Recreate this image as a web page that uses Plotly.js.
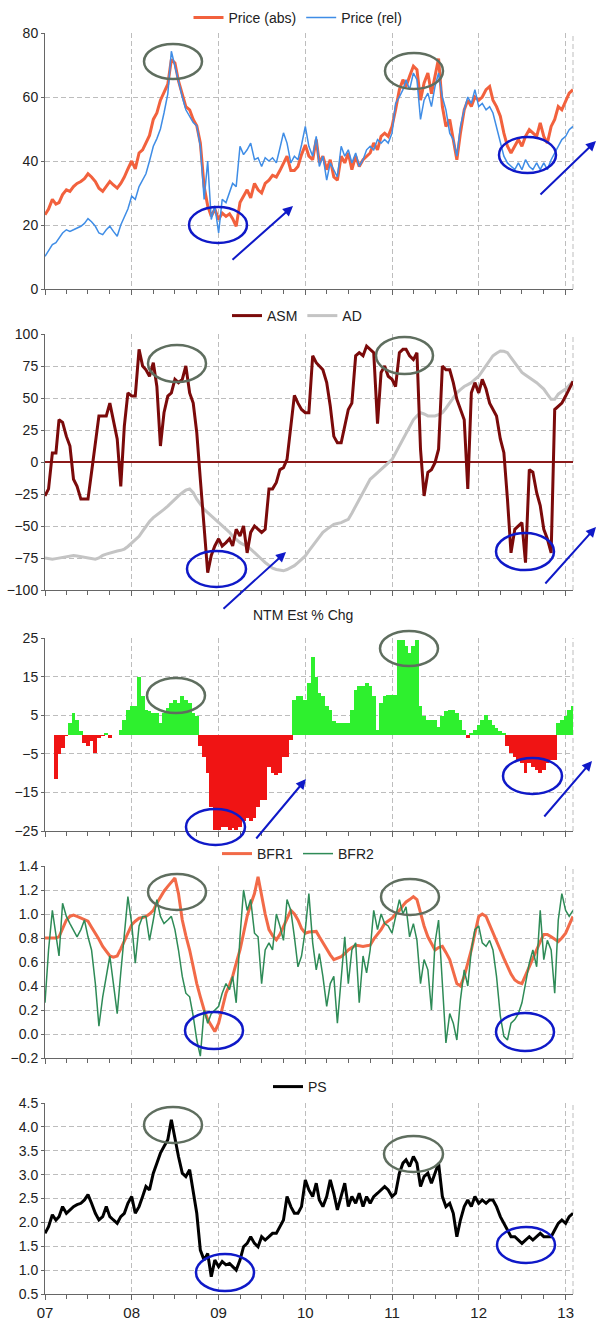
<!DOCTYPE html>
<html>
<head>
<meta charset="utf-8">
<script src="https://cdn.plot.ly/plotly-3.0.1.min.js"></script>
<style>html,body{margin:0;padding:0;background:#fff;}#chart{width:597px;height:1320px;}</style>
</head>
<body>
<div id="chart"></div>
<script>
// ---- data: semi-monthly observations, Jan 2007 .. Feb 2013 (147 points) ----
const N = 147;
const dates = [];
for (let i = 0; i < N; i++) {
  const m = Math.floor(i / 2);
  const y = 2007 + Math.floor(m / 12);
  const mo = (m % 12) + 1;
  dates.push(y + '-' + String(mo).padStart(2, '0') + '-' + (i % 2 ? '16' : '01'));
}
const yearTicks = ['2007-01-01','2008-01-01','2009-01-01','2010-01-01','2011-01-01','2012-01-01','2013-01-01'];
const yearLabels = ['07','08','09','10','11','12','13'];

const priceAbs = [
  23.2,25,28,26.5,27,29.5,31,30.5,32,33,33.6,34.5,
  36,35,33.6,31.5,30.5,32,33.6,32.5,31.5,33,35,37.5,
  40,37.5,42.5,43.5,45.6,48,53,55,59,61.5,64,71.7,
  70.6,65,61,57,56,53,51,45.6,32,26,22.7,25,
  21.7,23.7,22.7,23.5,22,19.6,27,29,31,28.5,33,31,
  30,33,34,35.5,35,37,39.4,41.5,37,37,38.3,42,
  45,41.5,40.4,46.7,39.4,41.5,37.3,40.4,35,34,41.5,39.4,
  42.5,37.3,41.5,38.3,40.4,41.5,42.5,45.6,43.5,47.7,48.7,47.7,
  50.8,56,62.3,65.4,63.3,66.5,69.6,68.5,59,64.4,67.5,61,
  66.5,72,57,50.8,53,46.7,40.4,48.7,56,59,57,60,
  59,60,62.3,63.3,59,57,54,48.7,44.6,42.5,44.6,46.7,
  44.6,47.7,49.8,48.7,47.7,51.9,47.7,45.6,50.8,53,57,56,
  59,61.2,62.3
];
const priceRel = [
  10.2,12,13.9,14.5,16,17.5,18.5,18,18.5,19,19.6,20.5,
  22,21,19.6,17.5,17,18.5,19.6,18,16.5,20,22.7,25,
  29,28,32,34,36,40,44.6,47,50,55,61,74.3,
  69.6,64,60,56,54,52,51,44.6,28,40,21.7,26,
  17.5,28,27,30,33,32,44.6,42,43.5,45.6,40.4,41,
  38.3,41,40,41,39.4,44,48.8,45.6,39.4,41.5,40.4,45,
  50.8,44.6,41.5,47.7,38.3,41.5,34,39.4,37.3,35,44.6,41.5,
  43.5,39.4,42.5,38.3,40.4,43.5,44.6,43.5,46.7,45.6,46.7,45.6,
  48.7,58,60,62.3,65.4,62.3,67.5,65.4,53,59,61.2,57,
  63.3,67.5,60,56,48.7,46.7,41.5,50.8,56,60,58,62.3,
  57,58,56,57,55,50.8,45.6,41.5,39.4,38.3,37.3,39.4,
  37.3,40.4,38.3,37.3,39.4,37.3,39.4,37.3,40.4,42.5,44.6,46.7,
  47.7,49.8,50.8
];
const asm = [
  -26.5,-21,7,7,33,31,20,12.5,-13.5,-19,-29,-29,
  -29,-8,15,36,36,36,46,31,18,-19,28,54,
  51.5,51.5,88,75,72,67,77.6,59,12.5,38.5,51.5,54,
  64.6,62,64.6,75,54,46,23,-13.5,-55,-86.5,-73,-65.6,
  -60,-65.6,-63,-60,-65.6,-52.6,-57.8,-50,-71,-55,-50,-52.6,
  -55,-52.6,-21,-21,-16,-6,-4.4,2,30,52,46,41,
  38.5,38.5,83,77.6,75,72,62,43.75,20,15,15,28,
  41,46,83,85.4,83,90.6,88,85.4,30,70,75,67,
  64.6,59,85.4,88,88,83,80,85.4,10,-26.5,-8,-6,
  -0.5,10,75,72,72,62,49,41,33,-21,54,62,
  54,64.6,57,46,41,36,18,7.3,-29,-71,-52.6,-50,
  -47.4,-78.6,-6,-8,-24,-34,-52.6,-60,-71,41,43.75,46,
  51.5,57,63
];
const ad = [
  -75,-75.5,-76,-75.5,-75,-74.5,-74,-73.5,-73,-73.5,-74,-74.5,
  -75,-75.5,-76,-75,-73,-72,-71,-70,-69.5,-69,-68,-66,
  -63,-60.5,-58,-54,-50,-46.5,-43.5,-41.5,-39.6,-37,-34.4,-31.5,
  -29,-26.5,-24,-22,-21,-24,-29,-33,-37,-39.5,-42,-44.5,
  -47.4,-50,-52.6,-55,-58,-60.5,-63,-64.5,-65.6,-68,-71,-73.5,
  -76,-78.5,-81,-83,-84,-84.5,-85,-84,-82.5,-81,-78.6,-76,
  -73.4,-69.5,-65.6,-62,-58,-55,-52.6,-50.5,-48.7,-48,-47.4,-46,
  -44.8,-40,-34.4,-29,-24,-19,-13.5,-11,-8.3,-5.5,-3,-0.5,
  2,7,12.5,18,23,28,33,36,38.5,37.5,36,36,
  36,37,38.5,42,46,50,54,56.5,59,60.5,62,64.5,
  67,71,75,79,83,85,86.7,86.5,85.4,81.5,77.6,74,
  70,68,66,64,62,59.5,57,53,49,49,53,55,
  57,60,63
];
const ntmChg = [
  0,0,0,-11.5,-5,-3.5,-0.5,3,5.5,3.8,1,-2.2,
  -3,-1.8,-4.8,-1,-0.5,0.5,-1,0,0,1.2,3.8,6.4,
  7.3,7.3,15,9.9,6.4,6,5.5,5.5,2.9,5.5,6.8,8.1,
  9,8.1,9.9,9,8.1,5.5,4.7,-3,-5.7,-10,-18.7,-24.7,
  -24.7,-24,-24,-24.7,-24.3,-24.7,-24,-22.5,-21.6,-22.5,-21.6,-18.7,
  -17,-17,-8.3,-10,-10.5,-10,-5.7,-5.7,-1.4,9,9.9,9.9,
  9,13.3,20.2,15,10.7,9.9,7.3,6.4,3.4,3,3,3,
  3,6.4,11.6,12.5,12.5,13.3,12.5,9.9,1.2,8.1,9.9,10.3,
  10.3,10.3,24.6,24.6,22.8,21.1,22.8,24.6,7.3,4.7,3.8,3.8,
  3.8,2,4.7,6,6.4,6.4,5.5,3.8,1.2,-1,0.5,1.2,
  2.5,3.8,5.1,3.8,2.5,1.6,0.8,0.3,-3.1,-4.8,-5.7,-6.6,
  -7.4,-10,-7.4,-8.3,-9.2,-10,-9.2,-7.4,-6.6,-6.6,3,3.8,
  4.7,6.4,7.3
];
const bfr1 = [
  0.8,0.8,0.8,0.8,0.81,0.88,0.95,0.98,0.99,0.98,0.965,0.955,
  0.94,0.89,0.84,0.79,0.73,0.69,0.65,0.64,0.65,0.71,0.78,0.85,
  0.91,0.94,0.965,0.97,0.98,1.0,1.03,1.09,1.145,1.19,1.23,1.27,
  1.30,1.17,0.95,0.82,0.70,0.56,0.42,0.31,0.2,0.12,0.065,0.02,
  0.09,0.21,0.34,0.41,0.48,0.59,0.70,0.84,0.98,1.08,1.17,1.31,
  1.145,1.0,0.87,0.82,0.785,0.83,0.895,0.96,1.03,1.0,0.95,0.88,
  0.84,0.85,0.855,0.855,0.81,0.76,0.70,0.66,0.62,0.63,0.645,0.67,
  0.70,0.72,0.74,0.735,0.73,0.735,0.74,0.79,0.83,0.87,0.92,0.94,
  0.965,1.0,1.03,1.07,1.10,1.12,1.145,1.12,1.0,0.9,0.81,0.75,
  0.70,0.72,0.73,0.68,0.62,0.52,0.42,0.40,0.48,0.59,0.70,0.84,
  0.98,1.0,0.98,0.91,0.84,0.77,0.70,0.63,0.56,0.5,0.45,0.43,
  0.42,0.49,0.56,0.63,0.70,0.77,0.83,0.83,0.81,0.79,0.77,0.80,
  0.84,0.91,0.98
];
const bfr2 = [
  0.26,0.70,1.03,0.81,0.65,1.09,0.98,0.92,0.87,0.81,0.87,0.95,
  0.81,0.70,0.42,0.065,0.31,0.48,0.65,0.42,0.17,0.51,0.81,1.145,
  0.92,0.59,0.90,0.98,0.98,0.78,0.95,1.12,0.98,0.92,0.95,0.98,
  0.87,0.70,0.48,0.34,0.31,0.15,-0.05,-0.185,0.2,0.09,0.17,0.2,
  0.23,0.34,0.42,0.37,0.48,0.26,0.81,1.2,1.03,1.12,0.84,0.81,
  0.42,0.70,0.76,0.70,1.0,0.90,0.78,1.12,1.03,0.81,0.56,0.65,
  0.87,1.17,0.76,0.535,0.67,0.48,0.23,0.42,0.48,0.09,0.48,0.81,
  0.42,0.70,0.76,0.26,0.65,0.51,0.70,1.03,0.87,1.0,0.92,0.90,
  0.84,0.98,1.12,1.0,1.06,0.81,0.92,0.78,0.42,0.62,0.535,0.2,
  0.76,0.95,0.42,-0.075,0.17,0.09,-0.05,0.285,0.535,0.40,0.70,0.87,
  0.90,0.76,0.73,0.78,0.70,0.48,0.15,-0.02,-0.05,0.09,0.12,0.17,
  0.26,0.42,0.59,0.70,0.56,1.03,0.62,0.78,0.70,0.34,0.95,1.17,
  1.03,0.98,1.03
];
const ps = [
  1.77,1.91,2.16,2.05,2.12,2.33,2.19,2.26,2.33,2.37,2.40,2.47,
  2.58,2.40,2.19,2.05,2.12,2.33,2.12,2.05,1.98,2.12,2.19,2.40,
  2.54,2.19,2.33,2.54,2.75,2.68,3.03,3.24,3.45,3.59,3.73,4.15,
  3.73,3.38,3.03,2.96,3.10,2.68,2.19,1.42,1.21,1.35,0.86,1.21,
  1.07,1.18,1.11,1.14,1.07,1.0,1.21,1.49,1.56,1.70,1.56,1.49,
  1.70,1.63,1.70,1.77,1.77,1.91,2.05,2.54,2.33,2.19,2.19,2.33,
  2.89,2.68,2.54,2.82,2.47,2.33,2.54,2.89,2.61,2.26,2.54,2.82,
  2.33,2.54,2.40,2.61,2.33,2.54,2.40,2.54,2.61,2.68,2.75,2.68,
  2.54,2.61,3.03,3.24,3.31,3.17,3.38,3.24,2.75,2.96,3.03,2.82,
  3.03,3.24,2.54,2.33,2.40,2.19,1.70,2.05,2.33,2.47,2.33,2.54,
  2.40,2.47,2.40,2.47,2.47,2.33,2.12,1.98,1.84,1.70,1.70,1.63,
  1.56,1.63,1.70,1.63,1.70,1.77,1.70,1.70,1.70,1.84,1.98,2.05,
  1.98,2.12,2.19
];

// ---- styling / layout ----
const FONT = 'Liberation Sans, Arial, sans-serif';
const W = 597, H = 1320, ML = 45, MR = 24, MT = 33, MB = 26;
const PW = W - ML - MR, PH = H - MT - MB;
const px2x = p => (p - ML) / PW;
const px2y = p => (H - MB - p) / PH;
const dom = (top, bot) => [px2y(bot), px2y(top)];

const GRID = '#bdbdbd', AX = '#666', DASH = '5px,3px';
function xax(n, showLabels) {
  return {
    type: 'date', range: ['2007-01-01', '2013-02-01'], anchor: 'y' + (n === 1 ? '' : n),
    tickvals: yearTicks, ticktext: yearLabels, showticklabels: showLabels,
    ticks: 'outside', ticklen: 5, tickcolor: AX, tickwidth: 1,
    showline: true, linecolor: AX, linewidth: 1,
    showgrid: true, gridcolor: GRID, griddash: DASH, gridwidth: 1,
    minor: { dtick: 'M3', tick0: '2007-01-01', ticks: 'outside', ticklen: 4, tickcolor: AX, showgrid: false },
    tickfont: { size: 15, color: '#222', family: FONT }, fixedrange: true, zeroline: false
  };
}
function yax(n, top, bot, range, tickvals, fmt) {
  return {
    domain: dom(top, bot), range: range, anchor: 'x' + (n === 1 ? '' : n),
    tickvals: tickvals, tickformat: fmt || '',
    ticks: 'outside', ticklen: 3, tickcolor: AX,
    showline: true, linecolor: AX, linewidth: 1,
    showgrid: true, gridcolor: GRID, griddash: DASH, gridwidth: 1,
    zeroline: false, tickfont: { size: 14, color: '#222', family: FONT }, fixedrange: true
  };
}

const traces = [
  { x: dates, y: priceAbs, name: 'Price (abs)', type: 'scatter', mode: 'lines', xaxis: 'x', yaxis: 'y',
    line: { color: '#f2613d', width: 3 }, legend: 'legend' },
  { x: dates, y: priceRel, name: 'Price (rel)', type: 'scatter', mode: 'lines', xaxis: 'x', yaxis: 'y',
    line: { color: '#3f8de6', width: 1.5 }, legend: 'legend' },
  { x: dates, y: ad, name: 'AD', type: 'scatter', mode: 'lines', xaxis: 'x2', yaxis: 'y2',
    line: { color: '#c4c4c4', width: 3 }, legend: 'legend2', legendrank: 2 },
  { x: dates, y: asm, name: 'ASM', type: 'scatter', mode: 'lines', xaxis: 'x2', yaxis: 'y2',
    line: { color: '#7b0a0a', width: 3 }, legend: 'legend2', legendrank: 1 },
  { x: dates, y: ntmChg, name: 'NTM Est % Chg', type: 'bar', xaxis: 'x3', yaxis: 'y3',
    marker: { color: ntmChg.map(v => v >= 0 ? '#2ef02e' : '#f01414'), line: { width: 0 } },
    width: 16.5 * 86400000, showlegend: false },
  { x: dates, y: bfr1, name: 'BFR1', type: 'scatter', mode: 'lines', xaxis: 'x4', yaxis: 'y4',
    line: { color: '#f26a48', width: 3 }, legend: 'legend4', legendrank: 1 },
  { x: dates, y: bfr2, name: 'BFR2', type: 'scatter', mode: 'lines', xaxis: 'x4', yaxis: 'y4',
    line: { color: '#2e8b57', width: 1.5 }, legend: 'legend4', legendrank: 2 },
  { x: dates, y: ps, name: 'PS', type: 'scatter', mode: 'lines', xaxis: 'x5', yaxis: 'y5',
    line: { color: '#000', width: 3 }, legend: 'legend5' }
];

function leg(ypx, xpx) {
  return { orientation: 'h', x: px2x(xpx), xanchor: 'center', y: px2y(ypx), yanchor: 'middle',
    font: { size: 14, color: '#222', family: FONT }, bgcolor: 'rgba(0,0,0,0)', itemwidth: 30,
    traceorder: 'normal', tracegroupgap: 0 };
}

const GREY = '#5f6e5f', BLUE = '#0f19c8';
function ell(x0, x1, y0, y1, c) {
  return { type: 'circle', xref: 'paper', yref: 'paper', x0: px2x(x0), x1: px2x(x1),
    y0: px2y(y1), y1: px2y(y0), line: { color: c, width: 2.5 } };
}
const shapes = [
  ell(144, 202, 44, 79, GREY), ell(189, 247, 207, 243, BLUE),
  ell(385, 443, 53, 89, GREY), ell(499, 556, 137, 173, BLUE),
  ell(148, 206, 345, 382, GREY), ell(187, 246, 551, 587, BLUE),
  ell(376, 433, 337, 374, GREY), ell(496, 554, 533, 570, BLUE),
  ell(147, 205, 678, 713, GREY), ell(186, 245, 809, 845, BLUE),
  ell(380, 438, 631, 666, GREY), ell(503, 562, 758, 794, BLUE),
  ell(148, 206, 874, 910, GREY), ell(185, 243, 1012, 1049, BLUE),
  ell(381, 439, 879, 915, GREY), ell(496, 554, 1013, 1051, BLUE),
  ell(144, 202, 1107, 1143, GREY), ell(196, 254, 1254, 1291, BLUE),
  ell(384, 443, 1136, 1172, GREY), ell(497, 555, 1227, 1263, BLUE)
];
// dashed right border for each panel
['', '2', '3', '4', '5'].forEach(n => {
  shapes.push({ type: 'line', xref: 'x' + n + ' domain', yref: 'y' + n + ' domain', x0: 1, x1: 1, y0: 0, y1: 1,
    line: { color: GRID, width: 1, dash: DASH }, layer: 'below' });
});

function arrow(tx, ty, hx, hy) {
  return { xref: 'paper', yref: 'paper', x: px2x(hx), y: px2y(hy), ax: tx - hx, ay: ty - hy,
    text: '', showarrow: true, arrowhead: 2, arrowsize: 1, arrowwidth: 2, arrowcolor: BLUE };
}
const annotations = [
  arrow(231, 261, 293, 206), arrow(539, 196, 597, 141),
  arrow(222, 610, 286, 552), arrow(544, 585, 605, 527),
  arrow(255, 840, 306, 779), arrow(543, 818, 592, 761),
  { xref: 'paper', yref: 'paper', x: px2x(303), y: px2y(615), text: 'NTM Est % Chg', showarrow: false,
    font: { size: 14, color: '#222', family: FONT }, xanchor: 'center', yanchor: 'middle' }
];

const layout = {
  width: W, height: H, margin: { l: ML, r: MR, t: MT, b: MB, autoexpand: false },
  paper_bgcolor: '#fff', plot_bgcolor: '#fff', font: { family: FONT, size: 14, color: '#222' },
  bargap: 0, barmode: 'relative', showlegend: true,
  xaxis: xax(1, false), xaxis2: xax(2, false), xaxis3: xax(3, false), xaxis4: xax(4, false), xaxis5: xax(5, true),
  yaxis: yax(1, 33, 289, [0, 80], [0, 20, 40, 60, 80]),
  yaxis2: Object.assign(yax(2, 334, 590, [-100, 100], [-100, -75, -50, -25, 0, 25, 50, 75, 100]),
    { zeroline: true, zerolinecolor: '#8b1a1a', zerolinewidth: 1.5 }),
  yaxis3: yax(3, 638, 831, [-25, 25], [-25, -15, -5, 5, 15, 25]),
  yaxis4: yax(4, 866, 1058, [-0.2, 1.4], [-0.2, 0, 0.2, 0.4, 0.6, 0.8, 1.0, 1.2, 1.4], '.1f'),
  yaxis5: yax(5, 1103, 1294, [0.5, 4.5], [0.5, 1, 1.5, 2, 2.5, 3, 3.5, 4, 4.5], '.1f'),
  legend: leg(18, 298), legend2: leg(316, 297), legend4: leg(854, 298), legend5: leg(1087, 300),
  shapes: shapes, annotations: annotations
};

Plotly.newPlot('chart', traces, layout, { staticPlot: true, displayModeBar: false });
</script>
</body>
</html>
